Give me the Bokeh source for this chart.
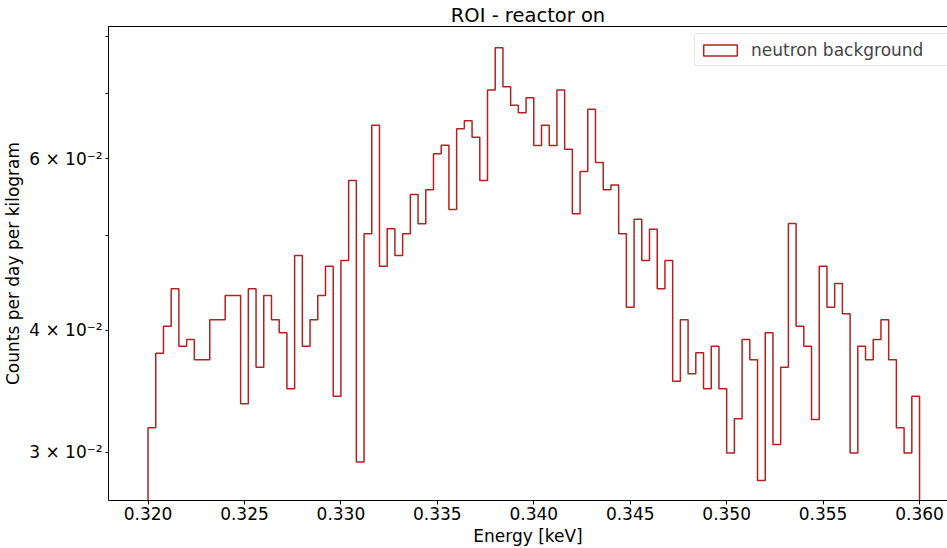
import numpy as np
from bokeh.plotting import figure
from bokeh.models import (Range1d, FixedTicker, LinearAxis, PrintfTickFormatter,
                          Legend, LegendItem)
from bokeh.embed import file_html
from bokeh.resources import INLINE

# ---- data ----
bin_lo = 0.320
bin_hi = 0.360
n_bins = 100
rate = [
    0.03179, 0.03791, 0.04041, 0.04414, 0.03854, 0.03916, 0.03733, 0.03733, 0.04102, 0.04102,
    0.04344, 0.04344, 0.03364, 0.04414, 0.03668, 0.04344, 0.04102, 0.03978, 0.03485, 0.04775,
    0.03854, 0.04102, 0.04344, 0.04656, 0.03424, 0.04719, 0.05700, 0.02931, 0.05026, 0.06496,
    0.04656, 0.05086, 0.04775, 0.05026, 0.05515, 0.05147, 0.05577, 0.06072, 0.06196, 0.05323,
    0.06440, 0.06564, 0.06314, 0.05700, 0.07056, 0.07798, 0.07112, 0.06810, 0.06689, 0.06930,
    0.06192, 0.06496, 0.06192, 0.07056, 0.06138, 0.05269, 0.05823, 0.06746, 0.05948, 0.05577,
    0.05638, 0.05026, 0.04226, 0.05202, 0.04719, 0.05081, 0.04414, 0.04719, 0.03548, 0.04102,
    0.03611, 0.03795, 0.03485, 0.03854, 0.03485, 0.02994, 0.03247, 0.03916, 0.03733, 0.02807,
    0.03978, 0.03056, 0.03668, 0.05150, 0.04041, 0.03854, 0.03242, 0.04656, 0.04226, 0.04470,
    0.04161, 0.02994, 0.03854, 0.03733, 0.03916, 0.04102, 0.03733, 0.03179, 0.02994, 0.03424,
]
x_ticks = [0.320, 0.325, 0.330, 0.335, 0.340, 0.345, 0.350, 0.355, 0.360]
y_ticks = [0.03, 0.04, 0.06]
y_tick_labels = ["3 × 10⁻²", "4 × 10⁻²", "6 × 10⁻²"]
y_minor_ticks = [0.05, 0.07, 0.08]
series_label = "neutron background"

FONT = "DejaVu Sans"
COLOR = "#b22222"

edges = np.linspace(bin_lo, bin_hi, n_bins + 1)
y_floor = 0.01
xs = [edges[0]]
ys = [y_floor]
for i, v in enumerate(rate):
    xs += [edges[i], edges[i + 1]]
    ys += [v, v]
xs.append(edges[-1])
ys.append(y_floor)

p = figure(width=947, height=548, y_axis_type="log",
           x_range=Range1d(0.31795, 0.36145), y_range=Range1d(0.02677, 0.0820),
           output_backend="svg", toolbar_location=None,
           min_border_left=107, min_border_right=0, min_border_top=26,
           min_border_bottom=48, title="ROI - reactor on")
p.outline_line_color = None
p.xgrid.visible = False
p.ygrid.visible = False
p.background_fill_color = "white"
p.border_fill_color = "white"

p.title.text_font = FONT
p.title.text_font_size = "19.5px"
p.title.text_font_style = "normal"
p.title.text_color = "black"
p.title.align = "center"
p.title.standoff = 0
p.title.offset = 0

p.line(xs, ys, line_color=COLOR, line_width=1.5)
# renderer used only for the legend swatch (outlined rectangle)
leg_r = p.quad(left=edges[:-1], right=edges[1:], top=rate, bottom=y_floor,
               fill_color=None, line_color=COLOR, line_width=1.5)
leg_r.visible = False

xa = p.xaxis[0]
xa.ticker = FixedTicker(ticks=x_ticks, minor_ticks=[])
xa.formatter = PrintfTickFormatter(format="%.3f")
xa.axis_label = "Energy [keV]"
ya = p.yaxis[0]
ya.ticker = FixedTicker(ticks=y_ticks, minor_ticks=y_minor_ticks)
ya.major_label_overrides = dict(zip(y_ticks, y_tick_labels))
ya.axis_label = "Counts per day per kilogram"
for ax in (xa, ya):
    ax.axis_line_color = "black"
    ax.axis_line_width = 1
    ax.major_tick_line_color = "black"
    ax.minor_tick_line_color = "black"
    ax.major_tick_in = 0
    ax.minor_tick_in = 0
    ax.major_label_text_font = FONT
    ax.major_label_text_font_size = "17px"
    ax.major_label_text_color = "black"
    ax.axis_label_text_font = FONT
    ax.axis_label_text_font_size = "17px"
    ax.axis_label_text_font_style = "normal"
    ax.axis_label_text_color = "black"
xa.major_tick_out = 4
xa.major_label_standoff = 2
xa.axis_label_standoff = 3
ya.major_tick_out = 3
ya.minor_tick_out = 3
ya.major_label_standoff = 3
ya.axis_label_standoff = 3

top = LinearAxis(ticker=FixedTicker(ticks=[]), major_tick_out=0, minor_tick_out=0,
                 major_tick_in=0, minor_tick_in=0, major_label_standoff=0,
                 axis_line_color="black", axis_line_width=1)
p.add_layout(top, "above")

legend = Legend(items=[LegendItem(label=series_label, renderers=[leg_r])],
                location=(586, 434), orientation="vertical",
                glyph_width=42, glyph_height=14, label_standoff=10,
                padding=4, margin=0, spacing=0, label_height=23, label_width=200,
                label_text_font=FONT, label_text_font_size="17px",
                label_text_baseline="middle",
                border_line_color="#cccccc", border_line_width=1,
                background_fill_color="white", background_fill_alpha=0.8)
legend.border_radius = 3
p.add_layout(legend)

open("out.html", "w").write(file_html(p, INLINE))
